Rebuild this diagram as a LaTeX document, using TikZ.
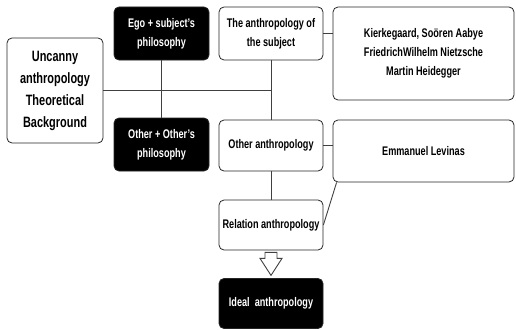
\documentclass[tikz,border=0pt]{standalone}
\usepackage{fontspec}
\setmainfont{Liberation Sans}[FakeStretch=0.73]
\usetikzlibrary{positioning}
\usetikzlibrary{calc}

\tikzset{
 wbox/.style={draw=black!85, line width=0.8pt, rounded corners=5pt, fill=white, align=center, inner sep=2pt, font=\bfseries\fontsize{12.5}{19}\selectfont},
 bbox/.style={wbox, fill=black, text=white},
 link/.style={draw=black!75, line width=0.9pt},
}

\begin{document}
\begin{tikzpicture}[x=1pt,y=-1pt]
\useasboundingbox (0,0) rectangle (516,329);

\node[wbox, minimum width=96pt, minimum height=105pt, font=\bfseries\fontsize{15}{22}\selectfont] (uncanny) at (55,90.5) {Uncanny\\anthropology\\Theoretical\\Background};

\node[bbox, minimum width=95pt, minimum height=53pt] (ego) at (161.5,33.5) {Ego + subject's\\philosophy};
\node[bbox, minimum width=95pt, minimum height=53pt] (other) at (161.5,144.5) {Other + Other's\\philosophy};

\node[wbox, minimum width=104pt, minimum height=53pt] (subject) at (271,33.5) {The anthropology of\\the subject};
\node[wbox, minimum width=104pt, minimum height=51pt] (otheranth) at (271,145.5) {Other anthropology};
\node[wbox, minimum width=104pt, minimum height=50pt] (relation) at (271,225) {Relation anthropology};
\node[bbox, minimum width=104pt, minimum height=50pt] (ideal) at (271,303.5) {Ideal\ \ anthropology};

\node[wbox, minimum width=181pt, minimum height=93pt] (kierk) at (423.5,53.5) {Kierkegaard, Soören Aabye\\FriedrichWilhelm Nietzsche\\Martin Heidegger};
\node[wbox, minimum width=181pt, minimum height=62pt] (levinas) at (423.5,151) {Emmanuel Levinas};

\draw[link] (ego.south) -- (other.north);
\draw[link] (subject.south) -- (otheranth.north);
\draw[link] (uncanny.east) -- (uncanny.east -| subject.south);
\draw[link] (subject.east) -- (subject.east -| kierk.west);
\draw[link] (otheranth.east) -- (otheranth.east -| levinas.west);
\draw[link] (otheranth.south) -- (relation.north);
\draw[link] (relation.east) -- ([xshift=4pt]levinas.south west);

\draw[link, fill=white] ($(relation.south)+(-6,2)$) --++(12,0) --++(0,6) --++(5,0) --++(-11,17) --++(-11,-17) --++(5,0) -- cycle;

\end{tikzpicture}
\end{document}
